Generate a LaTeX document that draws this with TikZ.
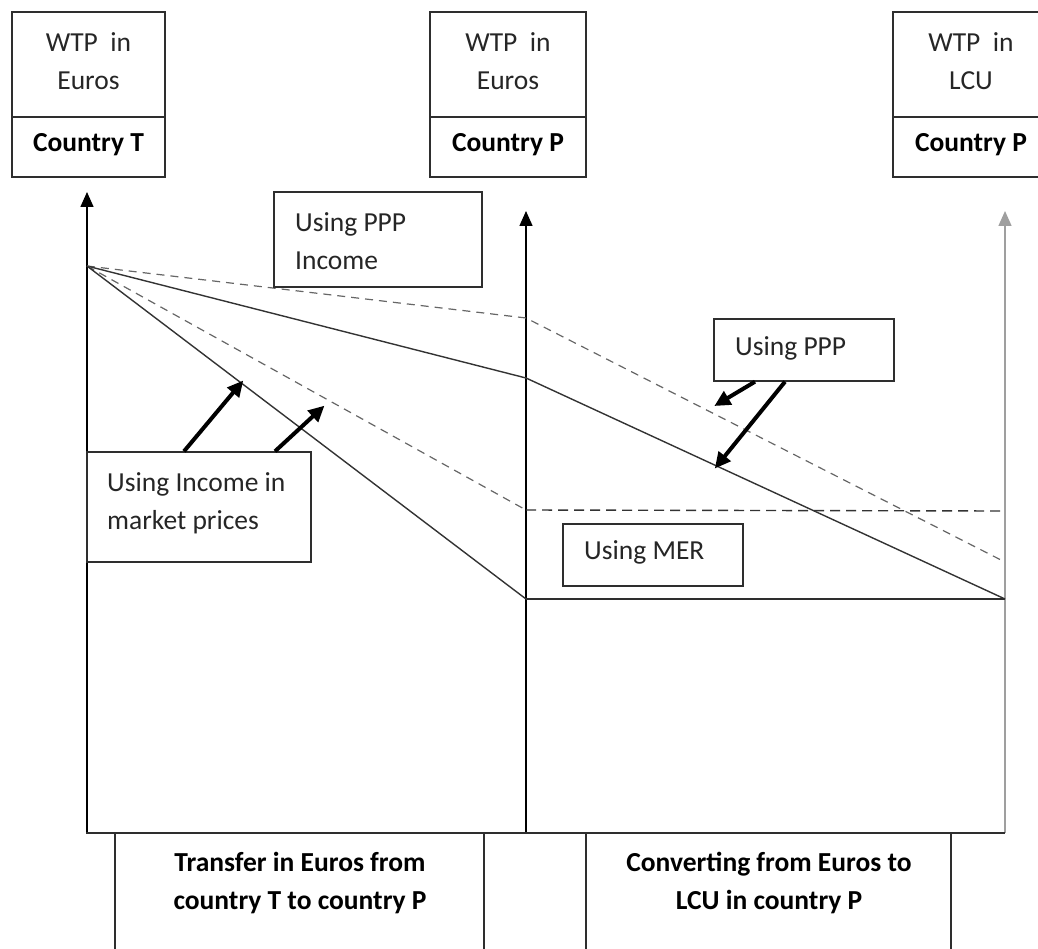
\documentclass[tikz,border=0pt]{standalone}
\usepackage{fontspec}
\setmainfont{Carlito}
\usetikzlibrary{arrows.meta}
\definecolor{ln}{HTML}{333333}
\definecolor{bx}{HTML}{2E2E2E}
\definecolor{tx}{HTML}{262626}
\tikzset{
  boxshape/.style={draw=bx, line width=1.4pt, fill=white},
  txt/.style={inner sep=0pt, text=tx, font=\fontsize{27.5}{38}\selectfont},
  btxt/.style={txt, font=\fontsize{27.5}{38}\selectfont\bfseries, text=black},
  curve/.style={draw=ln, line width=1.4pt},
  dcurve/.style={draw=ln!75, line width=1.2pt, dash pattern=on 8pt off 6pt},
  axisline/.style={draw=black, line width=1.5pt, -{Triangle[length=15pt,width=13pt]}},
  pointer/.style={draw=black, line width=4pt, -{Triangle[length=16pt,width=15pt]}, shorten >=-2pt}
}
\begin{document}
\begin{tikzpicture}[x=1pt,y=-1pt]
\useasboundingbox (0,0) rectangle (1038,949);
% key points of the curves
\coordinate (O) at (87,266);
\coordinate (M1) at (526,318);
\coordinate (M2) at (526,378);
\coordinate (M3) at (526,510);
\coordinate (M4) at (526,599);
\coordinate (R1) at (1001,560);
\coordinate (R3) at (1001,511);
\coordinate (R4) at (1005,599);
% axes
\coordinate (A1b) at (87,833);   \coordinate (A1t) at (87,192);
\coordinate (A2b) at (526,833);  \coordinate (A2t) at (526,211);
\coordinate (A3b) at (1005,833); \coordinate (A3t) at (1005,211);
\coordinate (Bl) at (86,833);
\draw[axisline] (A1b) -- (A1t);
\draw[axisline] (A2b) -- (A2t);
\draw[axisline, draw=gray!75] (A3b) -- (A3t);
% curves
\draw[dcurve] (O) -- (M1) -- (R1);
\draw[curve] (O) -- (M2) -- (R4);
\draw[dcurve] (O) -- (M3);
\draw[draw=ln, line width=1.4pt, dash pattern=on 10pt off 6pt] (M3) -- (R3);
\draw[curve] (O) -- (M4);
\draw[draw=bx, line width=2pt] (M4) -- (R4);
\draw[draw=bx, line width=1.5pt] (Bl) -- (A3b);
% top boxes
\node[boxshape, minimum width=153pt, minimum height=105pt] (tTa) at (88.5,64.5) {};
\node[boxshape, minimum width=153pt, minimum height=60pt] (tTb) at (88.5,147) {};
\node[boxshape, minimum width=156pt, minimum height=105pt] (tPa) at (508,64.5) {};
\node[boxshape, minimum width=156pt, minimum height=60pt] (tPb) at (508,147) {};
\node[boxshape, minimum width=156pt, minimum height=105pt] (tLa) at (971,64.5) {};
\node[boxshape, minimum width=156pt, minimum height=60pt] (tLb) at (971,147) {};
\node[txt, align=center] (lTa) at (88.5,61) {WTP\ \ in\\Euros};
\node[btxt] (lTb) at (88.5,145) {Country T};
\node[txt, align=center] (lPa) at (508,61) {WTP\ \ in\\Euros};
\node[btxt] (lPb) at (508,145) {Country P};
\node[txt, align=center] (lLa) at (971,61) {WTP\ \ in\\LCU};
\node[btxt] (lLb) at (971,145) {Country P};
% label boxes
\node[boxshape, minimum width=208pt, minimum height=95pt] (bPI) at (378,239.5) {};
\node[txt, align=left, anchor=west] (tPI) at (295,241) {Using PPP\\Income};
\node[boxshape, minimum width=224pt, minimum height=110pt] (bInc) at (199,507) {};
\node[txt, align=left, anchor=west] (tInc) at (107,503) {Using Income in\\market prices};
\node[boxshape, minimum width=180pt, minimum height=62pt] (bPPP) at (804,350) {};
\node[txt, anchor=west] (tPPP) at (735,348) {Using PPP};
\node[boxshape, minimum width=180pt, minimum height=62pt] (bMER) at (653,555) {};
\node[txt, anchor=west] (tMER) at (584,552) {Using MER};
% bottom boxes
\node[boxshape, minimum width=369pt, minimum height=130pt] (bT) at (299.5,898) {};
\node[boxshape, minimum width=365pt, minimum height=130pt] (bC) at (768.5,898) {};
\node[btxt, align=center] (tT) at (300,883) {Transfer in Euros from\\country T to country P};
\node[btxt, align=center] (tC) at (769,883) {Converting from Euros to\\LCU in country P};
% pointer arrows
\coordinate (p1) at ([xshift=-15pt]bInc.north);
\coordinate (p2) at ([xshift=76pt]bInc.north);
\coordinate (q1) at (242,382);
\coordinate (q2) at (323,407);
\draw[pointer] (p1) -- (q1);
\draw[pointer] (p2) -- (q2);
\coordinate (p3) at ([xshift=-49pt]bPPP.south);
\coordinate (p4) at ([xshift=-19pt]bPPP.south);
\coordinate (q3) at (716,405);
\coordinate (q4) at (716,467);
\draw[pointer] (p3) -- (q3);
\draw[pointer] (p4) -- (q4);
\end{tikzpicture}
\end{document}
